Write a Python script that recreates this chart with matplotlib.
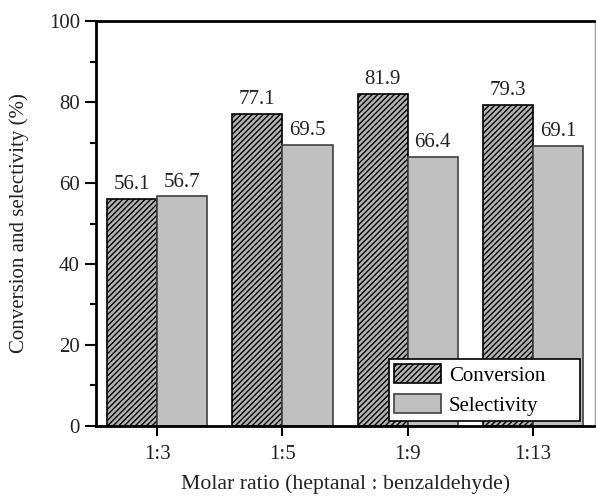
import matplotlib
matplotlib.use("Agg")
import matplotlib.pyplot as plt
import numpy as np
from matplotlib.ticker import MultipleLocator

plt.rcParams['font.family'] = ['Liberation Serif', 'DejaVu Serif']
plt.rcParams['hatch.linewidth'] = 1.0
plt.rcParams['hatch.color'] = '#202020'

ratios = ["1:3", "1:5", "1:9", "1:13"]
conversion = [56.1, 77.1, 81.9, 79.3]
selectivity = [56.7, 69.5, 66.4, 69.1]

fig = plt.figure(figsize=(5.96, 4.97), dpi=100)
ax = fig.add_axes([0.161, 0.1429, 0.838, 0.8148])

x = np.arange(len(ratios))
w = 0.4
b1 = ax.bar(x - w / 2, conversion, w, color='#b4b4b4', edgecolor='black',
            linewidth=1.2, hatch='//////', label='Conversion', zorder=2)
b2 = ax.bar(x + w / 2, selectivity, w, color='#c0c0c0', edgecolor='#404040',
            linewidth=1.2, label='Selectivity', zorder=2)

for rect, v in zip(b1, conversion):
    ax.text(rect.get_x() + rect.get_width() / 2, v + 1.2, f"{v:.1f}",
            ha='center', va='bottom', fontsize=15, color='#222222')
for rect, v in zip(b2, selectivity):
    ax.text(rect.get_x() + rect.get_width() / 2, v + 1.2, f"{v:.1f}",
            ha='center', va='bottom', fontsize=15, color='#222222')

ax.set_xlim(-0.49, 3.5)
ax.set_ylim(0, 100)
ax.set_xticks(x)
ax.set_xticklabels(ratios, fontsize=15, color='#222222')
ax.yaxis.set_major_locator(MultipleLocator(20))
ax.yaxis.set_minor_locator(MultipleLocator(10))
ax.tick_params(axis='y', which='major', direction='out', length=8, width=1.5,
               labelsize=15, labelcolor='#222222')
ax.tick_params(axis='y', which='minor', direction='out', length=4, width=1.5)
ax.tick_params(axis='x', which='major', direction='out', length=7, width=1.5, pad=7)
ax.tick_params(axis='x', which='minor', bottom=False)

for s in ['left', 'bottom', 'top']:
    ax.spines[s].set_linewidth(2)
    ax.spines[s].set_color('black')
ax.spines['right'].set_linewidth(1)
ax.spines['right'].set_color('#999999')

ax.set_xlabel("Molar ratio (heptanal : benzaldehyde)", fontsize=15.7,
              color='#222222', labelpad=7)
ax.set_ylabel("Conversion and selectivity (%)", fontsize=15,
              color='#222222', labelpad=14)

leg = ax.legend(loc='lower left', bbox_to_anchor=(0.586, 0.012, 0.384, 0.156),
                mode='expand', fontsize=15, frameon=True, fancybox=False,
                framealpha=1, edgecolor='black', handlelength=2.24,
                handleheight=1.05, borderpad=0.25, labelspacing=0.4,
                handletextpad=0.4, borderaxespad=0.0)
leg.get_frame().set_linewidth(1.2)
leg.set_zorder(5)

fig.savefig("out.png", dpi=100)
